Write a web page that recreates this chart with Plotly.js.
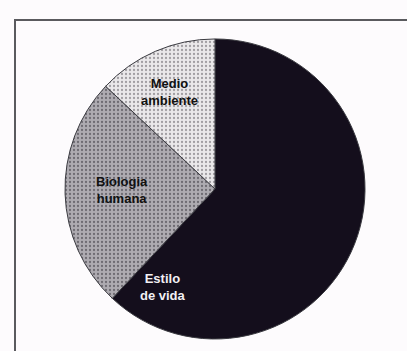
<!DOCTYPE html>
<html>
<head>
<meta charset="utf-8">
<script src="https://cdn.plot.ly/plotly-3.0.1.min.js"></script>
<style>html,body{margin:0;padding:0;background:#fdfbfd;}#chart{width:407px;height:351px;}</style>
</head>
<body>
<div id="chart"></div>
<script>
// Data (shares in %)
const categories = ["Estilo de vida", "Biologia humana", "Medio ambiente"];
const shares = [62, 25, 13];
const labelLines = ["Estilo<br>de vida", "Biologia<br>humana", "Medio<br>ambiente"];

const sliceColors = ["#140e1c", "#aeabb1", "#eae8ea"];
const dotColors = ["#140e1c", "#6e6b72", "#a09da2"];

const trace = {
  type: "pie",
  labels: categories,
  values: shares,
  sort: false,
  direction: "clockwise",
  rotation: 0,
  textinfo: "none",
  hoverinfo: "label+percent",
  showlegend: false,
  domain: {x: [0.1548, 0.9017], y: [0.0342, 0.889]},
  marker: {
    colors: sliceColors,
    line: {color: "#3a3a40", width: 1},
    pattern: {
      shape: ["", ".", "."],
      fgcolor: dotColors,
      bgcolor: sliceColors,
      size: 4,
      solidity: 0.25,
      fillmode: "replace"
    }
  }
};

const annPos = [[163, 287, "#f2f0f4"], [122, 190, "#111"], [169, 92, "#111"]];
const annotations = labelLines.map((t, i) => ({
  text: "<b>" + t + "</b>",
  x: annPos[i][0] / 407, y: 1 - annPos[i][1] / 351,
  xref: "paper", yref: "paper", showarrow: false,
  xanchor: "center", yanchor: "middle",
  font: {family: "Liberation Sans, Arial, sans-serif", size: 13, color: annPos[i][2]},
  align: "center"
}));

const layout = {
  width: 407, height: 351,
  margin: {l: 0, r: 0, t: 0, b: 0},
  paper_bgcolor: "#fdfbfd",
  annotations: annotations,
  shapes: [
    {type: "line", xref: "paper", yref: "paper", x0: 14/407, x1: 1.0, y0: 1 - 20/351, y1: 1 - 20/351, line: {color: "#5a5a5e", width: 2}},
    {type: "line", xref: "paper", yref: "paper", x0: 15/407, x1: 15/407, y0: 1 - 19/351, y1: 0, line: {color: "#5a5a5e", width: 2}}
  ]
};

Plotly.newPlot("chart", [trace], layout, {displayModeBar: false, staticPlot: true});
</script>
</body>
</html>
